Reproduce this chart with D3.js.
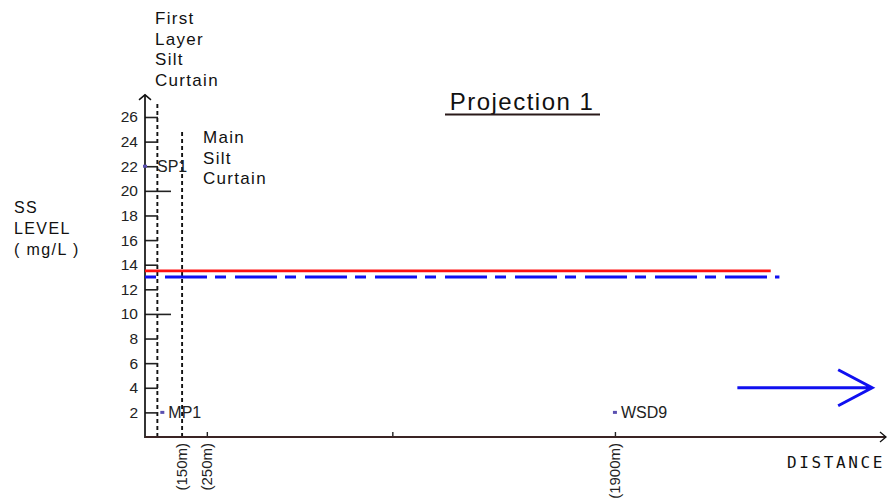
<!DOCTYPE html>
<html lang="en">
<head>
    <meta charset="UTF-8">
    <title>Projection 1</title>
    <script src="https://d3js.org/d3.v7.min.js"></script>
    <style>
        body { margin: 0; padding: 0; background: #fff; }
        svg { display: block; }
        .lbl { font-family: "Liberation Sans", Arial, sans-serif; fill: #111; }
        .narrow { font-family: "Liberation Sans Narrow", "Liberation Sans", Arial, sans-serif; fill: #222; }
        .mono { font-family: "DejaVu Sans Mono", monospace; fill: #111; }
    </style>
</head>
<body>
<svg id="chart"></svg>
<script>
    // y axis ticks (mg/L)
    const yTicks = [2, 4, 6, 8, 10, 12, 14, 16, 18, 20, 22, 24, 26];
    const longTicks = [10, 20];

    // x axis ticks (m)
    const xTicks = [250, 1000, 1900];
    const xLabelDist = [150, 250, 1900];
    const xLabels = ["(150m)", "(250m)", "(1900m)"];

    // silt curtains
    const curtainNames = [["First", "Layer", "Silt", "Curtain"], ["Main", "Silt", "Curtain"]];
    const curtainDist = [50, 150];
    const curtainTop = [27.2, 25];

    // monitoring points
    const pointNames = ["SP1", "MP1", "WSD9"];
    const pointDist = [0, 70, 1900];
    const pointLevel = [22, 2, 2];

    // limit lines
    const redLevel = 13.5, redEnd = 2530;
    const blueLevel = 13, blueEnd = 2565;

    // flow arrow
    const arrowFrom = 2395, arrowTo = 2940, arrowLevel = 4;

    const W = 888, H = 500;
    const svg = d3.select("#chart").attr("width", W).attr("height", H);

    const x = d3.scaleLinear().domain([0, 3000]).range([145, 887]);
    const y = d3.scaleLinear().domain([0, 26]).range([437, 117]);

    // curtains (dotted)
    curtainDist.forEach((d, i) => {
        svg.append("line")
            .attr("x1", x(d)).attr("x2", x(d))
            .attr("y1", y(0)).attr("y2", y(curtainTop[i]))
            .attr("stroke", "#111").attr("stroke-width", 1.9)
            .attr("stroke-dasharray", "4,3");
    });

    // y axis
    const yAxis = svg.append("g")
        .attr("transform", `translate(${x(0)},0)`)
        .call(d3.axisLeft(y).tickValues(yTicks).tickSize(-13).tickPadding(7));
    yAxis.select(".domain").remove();
    yAxis.selectAll(".tick line")
        .attr("stroke", "#222").attr("stroke-width", 1.6)
        .attr("x2", d => longTicks.includes(d) ? 26 : 13);
    yAxis.selectAll(".tick text")
        .attr("class", "narrow")
        .style("font-size", "15.5px")
        .attr("font-family", null);

    svg.append("line")
        .attr("x1", x(0)).attr("x2", x(0))
        .attr("y1", y(0) + 1).attr("y2", y(27.8))
        .attr("stroke", "#111").attr("stroke-width", 1.7);
    svg.append("path")
        .attr("d", `M${x(0) - 6},${y(27.8) + 5} L${x(0)},${y(27.8)} L${x(0) + 6},${y(27.8) + 5}`)
        .attr("fill", "none").attr("stroke", "#111").attr("stroke-width", 1.5);

    // x axis
    const xAxis = svg.append("g")
        .attr("transform", `translate(0,${y(0)})`)
        .call(d3.axisBottom(x).tickValues(xTicks).tickSize(-5).tickFormat(""));
    xAxis.select(".domain").remove();
    xAxis.selectAll(".tick line").attr("stroke", "#222").attr("stroke-width", 1.4);

    svg.append("line")
        .attr("x1", x(0)).attr("x2", 886)
        .attr("y1", y(0)).attr("y2", y(0))
        .attr("stroke", "#3a2424").attr("stroke-width", 1.9);
    svg.append("path")
        .attr("d", `M880,${y(0) - 5} L886,${y(0)} L880,${y(0) + 5}`)
        .attr("fill", "none").attr("stroke", "#111").attr("stroke-width", 1.3);

    svg.selectAll(".xlab")
        .data(xLabelDist)
        .join("text")
        .attr("class", "xlab narrow")
        .attr("transform", d => `translate(${x(d) + 5},443) rotate(-90)`)
        .attr("text-anchor", "end")
        .style("font-size", "15px")
        .text((d, i) => xLabels[i]);

    // limit lines
    svg.append("line")
        .attr("x1", x(0)).attr("x2", x(redEnd))
        .attr("y1", y(redLevel)).attr("y2", y(redLevel))
        .attr("stroke", "#ff1010").attr("stroke-width", 2.8);
    svg.append("line")
        .attr("x1", x(0)).attr("x2", x(blueEnd))
        .attr("y1", y(blueLevel)).attr("y2", y(blueLevel))
        .attr("stroke", "#1010f0").attr("stroke-width", 2.8)
        .attr("stroke-dasharray", "11,9,42,8");

    // points
    pointNames.forEach((n, i) => {
        const px = x(pointDist[i]), py = y(pointLevel[i]);
        svg.append("rect")
            .attr("x", px - 2).attr("y", py - 1.5)
            .attr("width", 4).attr("height", 3)
            .attr("fill", "#5a50b0");
        svg.append("text")
            .attr("class", "narrow")
            .attr("x", px + (i === 0 ? 12 : 6)).attr("y", py + 6)
            .style("font-size", "16px")
            .text(n);
    });

    // flow arrow
    const ay = y(arrowLevel);
    svg.append("path")
        .attr("d", `M${x(arrowFrom)},${ay} L${x(arrowTo)},${ay} M${x(arrowTo) - 34},${ay - 18} L${x(arrowTo)},${ay} L${x(arrowTo) - 34},${ay + 18}`)
        .attr("fill", "none").attr("stroke", "#1010f0").attr("stroke-width", 3);

    // curtain labels
    const curtainLabelX = [155, 203];
    const curtainLabelY = [24, 143];
    curtainNames.forEach((lines, i) => {
        lines.forEach((t, j) => {
            svg.append("text")
                .attr("class", "lbl")
                .attr("x", curtainLabelX[i]).attr("y", curtainLabelY[i] + j * 20.7)
                .style("font-size", "17px")
                .style("letter-spacing", "1.3px")
                .text(t);
        });
    });

    // title
    svg.append("text")
        .attr("class", "lbl")
        .attr("x", 522).attr("y", 110)
        .attr("text-anchor", "middle")
        .style("font-size", "24px")
        .style("letter-spacing", "1.5px")
        .text("Projection 1");
    svg.append("line")
        .attr("x1", 445).attr("x2", 600)
        .attr("y1", 114.5).attr("y2", 114.5)
        .attr("stroke", "#2a1a1a").attr("stroke-width", 1.8);

    // axis titles
    ["SS", "LEVEL", "( mg/L )"].forEach((t, j) => {
        svg.append("text")
            .attr("class", "lbl")
            .attr("x", 14).attr("y", 213 + j * 21)
            .style("font-size", "16px")
            .style("letter-spacing", "1.4px")
            .text(t);
    });
    svg.append("text")
        .attr("class", "mono")
        .attr("x", 787).attr("y", 468)
        .style("font-size", "16px")
        .style("letter-spacing", "2.6px")
        .text("DISTANCE");
</script>
</body>
</html>
